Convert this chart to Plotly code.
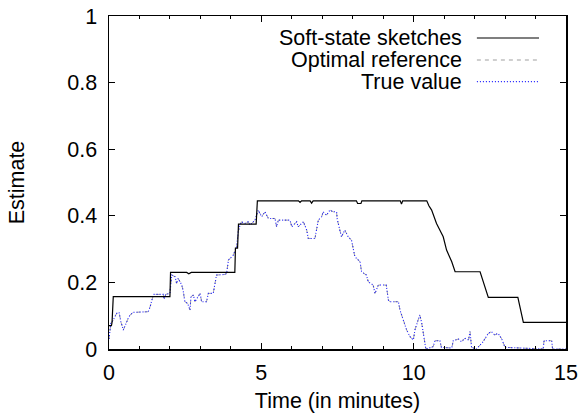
import plotly.graph_objects as go

# ---- data ----
sketch_time = [0, 0.08, 0.1, 0.14, 2.0, 2.02, 2.55, 2.62, 2.7, 4.13,
               4.15, 4.22, 4.25, 4.83, 4.87, 6.22, 6.27, 6.32, 6.6, 6.65,
               6.7, 8.12, 8.16, 8.27, 8.3, 9.56, 9.6, 9.64, 10.43, 10.5,
               10.59, 10.75, 10.97, 11.08, 11.25, 11.36, 12.18, 12.27, 12.45, 13.42,
               13.5, 13.6, 15]
sketch_value = [0.07, 0.07, 0.08, 0.157, 0.157, 0.23, 0.23, 0.226, 0.23, 0.23,
                0.303, 0.303, 0.375, 0.375, 0.445, 0.445, 0.44, 0.445, 0.445, 0.438,
                0.445, 0.445, 0.437, 0.437, 0.445, 0.445, 0.435, 0.445, 0.445, 0.43,
                0.417, 0.377, 0.337, 0.297, 0.262, 0.232, 0.232, 0.207, 0.155, 0.155,
                0.12, 0.08, 0.08]

true_time = [0, 0.03, 0.06, 0.14, 0.25, 0.33, 0.39, 0.47, 0.55, 0.63,
             0.69, 0.8, 1.29, 1.35, 1.46, 1.78, 1.81, 1.86, 2.0, 2.06,
             2.17, 2.22, 2.27, 2.39, 2.44, 2.49, 2.58, 2.66, 2.69, 2.77,
             2.82, 2.99, 3.04, 3.2, 3.26, 3.42, 3.48, 3.53, 3.81, 3.86,
             3.92, 4.08, 4.19, 4.24, 4.3, 4.35, 4.46, 4.57, 4.63, 4.79,
             4.9, 5.01, 5.12, 5.23, 5.45, 5.5, 5.56, 5.94, 6.0, 6.16,
             6.21, 6.38, 6.49, 6.54, 6.76, 6.82, 6.87, 6.98, 7.03, 7.14,
             7.25, 7.36, 7.47, 7.49, 7.58, 7.63, 7.74, 7.85, 7.96, 8.02,
             8.07, 8.24, 8.29, 8.45, 8.51, 8.67, 8.73, 8.84, 9.1, 9.17,
             9.22, 9.5, 9.55, 9.66, 9.77, 9.88, 9.99, 10.04, 10.12, 10.2,
             10.26, 10.32, 10.37, 10.4, 10.64, 10.7, 10.86, 10.91, 11.25, 11.3,
             11.47, 11.57, 11.68, 11.8, 11.85, 11.9, 12.06, 12.28, 12.45, 12.55,
             12.66, 12.77, 12.88, 13.0, 14.25, 14.28, 14.53, 14.56, 15]
true_value = [0.03, 0.047, 0.077, 0.087, 0.107, 0.11, 0.082, 0.057, 0.077, 0.092,
              0.102, 0.11, 0.112, 0.127, 0.164, 0.164, 0.15, 0.164, 0.167, 0.222,
              0.217, 0.197, 0.212, 0.192, 0.172, 0.142, 0.137, 0.117, 0.157, 0.162,
              0.142, 0.167, 0.142, 0.142, 0.167, 0.167, 0.197, 0.222, 0.224, 0.227,
              0.267, 0.282, 0.307, 0.352, 0.372, 0.382, 0.377, 0.382, 0.372, 0.387,
              0.417, 0.397, 0.412, 0.392, 0.392, 0.367, 0.387, 0.387, 0.367, 0.382,
              0.367, 0.382, 0.357, 0.332, 0.332, 0.357, 0.387, 0.397, 0.412, 0.402,
              0.417, 0.412, 0.412, 0.39, 0.357, 0.337, 0.357, 0.337, 0.327, 0.297,
              0.277, 0.262, 0.232, 0.222, 0.202, 0.192, 0.167, 0.192, 0.192, 0.147,
              0.142, 0.142, 0.117, 0.087, 0.057, 0.037, 0.027, 0.057, 0.082, 0.102,
              0.08, 0.042, 0.017, 0.0, 0.007, 0.025, 0.025, 0.005, 0.003, 0.025,
              0.03, 0.022, 0.032, 0.027, 0.052, 0.005, 0.0, 0.022, 0.047, 0.052,
              0.042, 0.047, 0.032, 0.005, 0.0, 0.025, 0.025, 0.0, 0.0]

# optimal reference follows the true value closely
optimal_time = list(true_time)
optimal_value = list(true_value)

series_names = ["Soft-state sketches", "Optimal reference", "True value"]
x_ticks = [0, 5, 10, 15]
y_ticks = [0, 0.2, 0.4, 0.6, 0.8, 1]
y_tick_labels = ["0", "0.2", "0.4", "0.6", "0.8", "1"]

assert len(sketch_time) == len(sketch_value)
assert len(true_time) == len(true_value)

FONT = "Liberation Sans, Arial, Helvetica, sans-serif"
FS = 21.5
colors = ["#000000", "#a0a0a0", "#1a1aff"]
dashes = ["solid", "4px,4px", "1px,2px"]

fig = go.Figure()
fig.add_trace(go.Scatter(x=optimal_time, y=optimal_value, mode="lines",
                         line=dict(color=colors[1], width=1, dash=dashes[1]),
                         name=series_names[1], showlegend=False))
fig.add_trace(go.Scatter(x=true_time, y=true_value, mode="lines",
                         line=dict(color=colors[2], width=1.1, dash=dashes[2]),
                         name=series_names[2], showlegend=False))
fig.add_trace(go.Scatter(x=sketch_time, y=sketch_value, mode="lines",
                         line=dict(color=colors[0], width=1.2, dash=dashes[0]),
                         name=series_names[0], showlegend=False))

# custom legend (text to the left of the sample, right-aligned)
row_y = [0.934, 0.868, 0.803]
for name, col, dsh, ry in zip(series_names, colors, dashes, row_y):
    fig.add_annotation(x=0.772, y=ry, xref="paper", yref="paper",
                       text=name, showarrow=False, xanchor="right", yanchor="middle",
                       xshift=2, font=dict(family=FONT, size=FS, color="black"))
    fig.add_shape(type="line", xref="paper", yref="paper",
                  x0=0.805, x1=0.941, y0=ry, y1=ry,
                  line=dict(color=col, width=1.1, dash=dsh))

axis_common = dict(showline=True, linecolor="black", linewidth=1.5, mirror="ticks",
                   ticks="inside", ticklen=6, tickcolor="black", tickwidth=1,
                   showgrid=False, zeroline=False, ticklabeloverflow="allow",
                   tickfont=dict(family=FONT, size=FS, color="black"))

fig.update_xaxes(range=[0, 15], tickvals=x_ticks, ticktext=[str(v) for v in x_ticks],
                 minor=dict(dtick=1, ticks="inside", ticklen=3, tickcolor="black", showgrid=False),
                 title=dict(text="Time (in minutes)", font=dict(family=FONT, size=FS, color="black"),
                            standoff=11),
                 ticklabelstandoff=4,
                 **axis_common)
fig.update_yaxes(range=[0, 1], tickvals=y_ticks, ticktext=y_tick_labels,
                 title=dict(text="Estimate", font=dict(family=FONT, size=FS, color="black"),
                            standoff=37),
                 ticklabelstandoff=6,
                 **axis_common)

fig.update_layout(width=584, height=413,
                  margin=dict(l=109, r=18, t=16, b=64, autoexpand=False),
                  paper_bgcolor="white", plot_bgcolor="white",
                  showlegend=False)

# remove the default 8px page margin so the figure fills the window
fig.write_html("out.html",
               config={"displayModeBar": False, "staticPlot": True},
               post_script="document.body.style.margin='0';document.body.style.overflow='hidden';")
